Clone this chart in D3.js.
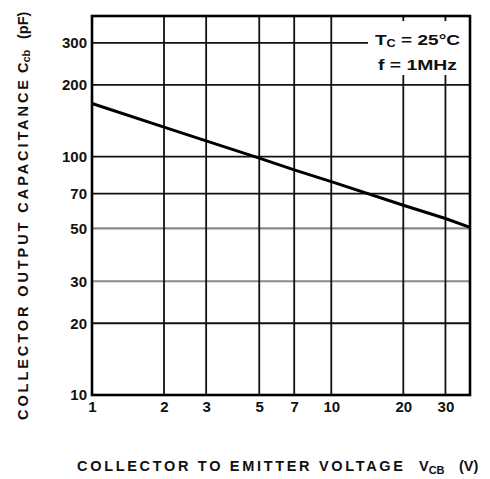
<!DOCTYPE html>
<html lang="en">
<head>
    <meta charset="UTF-8">
    <script src="https://d3js.org/d3.v7.min.js"></script>
    <style>
        body { margin: 0; background: #fff; }
        svg { display: block; font-family: "Liberation Sans", Arial, sans-serif; font-weight: bold; }
    </style>
</head>
<body>
<script>
    const voltage = [1, 2, 3, 5, 7, 10, 20, 30, 38];
    const capacitance = [167, 133, 116.5, 98.5, 88, 78.5, 62.5, 55, 50.5];
    const xTicks = [1, 2, 3, 5, 7, 10, 20, 30];
    const yTicks = [10, 20, 30, 50, 70, 100, 200, 300];
    const xGrid = [2, 3, 5, 7, 10, 20, 30];
    const yGrid = [20, 30, 50, 70, 100, 200, 300];
    const greyRows = [30, 50];

    const W = 490, H = 479;
    const plot = { left: 92, right: 470, top: 16, bottom: 395 };

    const svg = d3.select("body").append("svg")
        .attr("width", W)
        .attr("height", H);

    const x = d3.scaleLog().domain([1, 38]).range([plot.left, plot.right]);
    const y = d3.scaleLog().domain([10, 389]).range([plot.bottom, plot.top]);

    // grid
    svg.append("g").selectAll("line")
        .data(yGrid)
        .join("line")
        .attr("x1", plot.left).attr("x2", plot.right)
        .attr("y1", d => y(d)).attr("y2", d => y(d))
        .attr("stroke", d => greyRows.includes(d) ? "#8a8a8a" : "#111")
        .attr("stroke-width", d => greyRows.includes(d) ? 2.2 : 1.8);

    svg.append("g").selectAll("line")
        .data(xGrid)
        .join("line")
        .attr("x1", d => x(d)).attr("x2", d => x(d))
        .attr("y1", plot.top).attr("y2", plot.bottom)
        .attr("stroke", "#111")
        .attr("stroke-width", 1.8);

    // white box behind the conditions
    svg.append("rect")
        .attr("x", 368).attr("y", 21)
        .attr("width", plot.right - 368 - 1).attr("height", 54)
        .attr("fill", "#fff");

    // curve
    const line = d3.line()
        .x((d, i) => x(voltage[i]))
        .y(d => y(d));

    svg.append("path")
        .datum(capacitance)
        .attr("d", line)
        .attr("fill", "none")
        .attr("stroke", "#000")
        .attr("stroke-width", 3);

    // frame
    svg.append("rect")
        .attr("x", plot.left).attr("y", plot.top)
        .attr("width", plot.right - plot.left).attr("height", plot.bottom - plot.top)
        .attr("fill", "none")
        .attr("stroke", "#000")
        .attr("stroke-width", 2.6);

    // axes
    const yAxis = svg.append("g")
        .attr("transform", `translate(${plot.left},0)`)
        .call(d3.axisLeft(y).tickValues(yTicks).tickFormat(d3.format("d")).tickSize(0).tickPadding(5));
    const xAxis = svg.append("g")
        .attr("transform", `translate(0,${plot.bottom})`)
        .call(d3.axisBottom(x).tickValues(xTicks).tickFormat(d3.format("d")).tickSize(0).tickPadding(6));

    [yAxis, xAxis].forEach(a => {
        a.select(".domain").remove();
        a.selectAll("text")
            .attr("font-family", "'Liberation Sans', Arial, sans-serif")
            .attr("font-weight", "bold")
            .attr("font-size", 15)
            .attr("fill", "#111");
    });

    // conditions
    const t1 = svg.append("text").attr("x", 375).attr("y", 45).attr("font-size", 15).attr("fill", "#111")
        .attr("textLength", 85).attr("lengthAdjust", "spacingAndGlyphs");
    t1.append("tspan").text("T");
    t1.append("tspan").attr("font-size", 10).attr("dy", 2).text("C");
    t1.append("tspan").attr("dy", -2).text(" = 25°C");
    svg.append("text").attr("x", 378).attr("y", 70).attr("font-size", 15).attr("fill", "#111")
        .attr("textLength", 79).attr("lengthAdjust", "spacingAndGlyphs")
        .text("f = 1MHz");

    // x title
    svg.append("text")
        .attr("x", 77).attr("y", 471)
        .attr("font-size", 14.5).attr("fill", "#111")
        .attr("textLength", 326).attr("lengthAdjust", "spacing")
        .text("COLLECTOR TO EMITTER VOLTAGE");
    const xt = svg.append("text").attr("x", 419).attr("y", 471).attr("font-size", 14.5).attr("fill", "#111");
    xt.append("tspan").text("V");
    xt.append("tspan").attr("font-size", 11).attr("dy", 3).text("CB");
    xt.append("tspan").attr("x", 459).attr("dy", -3).text("(V)");

    // y title
    const yg = svg.append("g").attr("transform", "translate(28,0) rotate(-90)");
    yg.append("text")
        .attr("x", -420).attr("y", 0)
        .attr("font-size", 14.5).attr("fill", "#111")
        .attr("textLength", 340).attr("lengthAdjust", "spacing")
        .text("COLLECTOR OUTPUT CAPACITANCE");
    const yt = yg.append("text").attr("x", -73).attr("y", 0).attr("font-size", 14.5).attr("fill", "#111");
    yt.append("tspan").text("C");
    yt.append("tspan").attr("font-size", 11).attr("dy", 2).text("cb");
    yt.append("tspan").attr("x", -39).attr("dy", -2).text("(pF)");
</script>
</body>
</html>
